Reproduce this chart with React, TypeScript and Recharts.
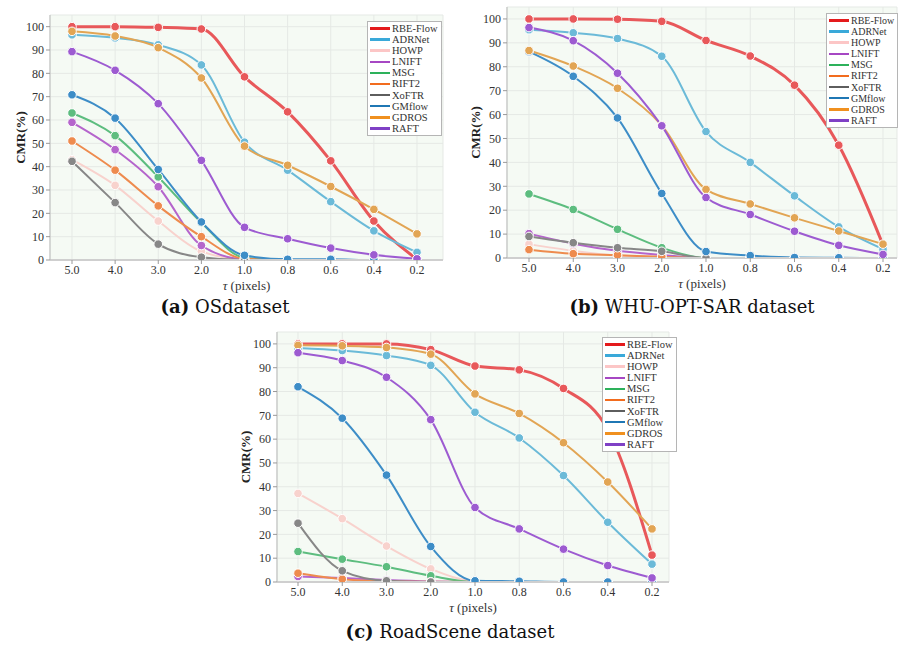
import React from 'react';
import { LineChart, Line, XAxis, YAxis, CartesianGrid, Label } from 'recharts';

// threshold tau (pixels) on the x axis
const taus = ['5.0', '4.0', '3.0', '2.0', '1.0', '0.8', '0.6', '0.4', '0.2'];
const methods = ['RBE-Flow', 'ADRNet', 'HOWP', 'LNIFT', 'MSG', 'RIFT2', 'XoFTR', 'GMflow', 'GDROS', 'RAFT'];
const lineColors = ['#e8585a', '#6bbad8', '#f8d2cd', '#b565cc', '#5dbd7f', '#ee8b4e', '#878787', '#3d8dc7', '#e2a554', '#9d5bd1'];
const legendColors = ['#e41a1c', '#3aa9d9', '#fcc6c6', '#a647c3', '#2db15b', '#f26c1e', '#5e5e5e', '#1f77b4', '#f0901f', '#7f40c5'];
const yTicks = [0, 10, 20, 30, 40, 50, 60, 70, 80, 90, 100];

// CMR(%) per method, rows in the same order as `methods`
const osValues = [
  [100, 100, 99.7, 99, 78.5, 63.5, 42.5, 16.7, 0.3],
  [96.5, 95.2, 92.2, 83.6, 50.5, 38.5, 25, 12.5, 3.3],
  [43, 32, 16.7, 3.7, 0.3, 0, 0, 0, 0],
  [59, 47.3, 31.4, 6.2, 0.3, 0, 0, 0, 0],
  [63, 53.3, 35.6, 16, 1, 0, 0, 0, 0],
  [51, 38.5, 23.2, 10, 0.5, 0, 0, 0, 0],
  [42.3, 24.6, 6.8, 1.2, 0, 0, 0, 0, 0],
  [70.8, 60.8, 38.8, 16.3, 2, 0.3, 0.3, 0, 0],
  [98, 96, 91, 78, 48.8, 40.6, 31.5, 21.7, 11.2],
  [89.3, 81.3, 67, 42.7, 14, 9.1, 5.1, 2.2, 0.5],
];

const whuValues = [
  [100, 100, 99.9, 99, 91, 84.5, 72.3, 47.2, 5.5],
  [95.5, 94.2, 91.8, 84.4, 52.9, 40, 26, 13, 3.7],
  [5.8, 3, 1, 0.5, 0, 0, 0, 0, 0],
  [10.2, 6, 3, 1.3, 0, 0, 0, 0, 0],
  [26.8, 20.3, 12, 4.3, 0, 0, 0, 0, 0],
  [3.5, 1.8, 1.2, 0.5, 0, 0, 0, 0, 0],
  [9, 6.4, 4.3, 2.8, 0, 0, 0, 0, 0],
  [86.3, 76, 58.6, 27, 2.7, 1, 0.2, 0.1, 0],
  [86.8, 80.3, 71, 55.5, 28.7, 22.6, 16.8, 11.3, 5.8],
  [96.4, 90.9, 77.3, 55.3, 25.3, 18.2, 11.2, 5.3, 1.5],
];

const roadValues = [
  [100, 100, 100, 97.6, 90.7, 89.1, 81.3, 64, 11.3],
  [98.3, 97.2, 95.1, 91, 71.3, 60.5, 44.7, 25.1, 7.5],
  [37.2, 26.6, 15.1, 5.5, 0.3, 0, 0, 0, 0],
  [2.3, 1.7, 0.8, 0.2, 0, 0, 0, 0, 0],
  [12.8, 9.6, 6.4, 2.6, 0, 0, 0, 0, 0],
  [3.7, 1.2, 0.3, 0.1, 0, 0, 0, 0, 0],
  [24.7, 4.7, 0.5, 0, 0, 0, 0, 0, 0],
  [82, 68.8, 44.9, 14.9, 0.5, 0.3, 0, 0, 0],
  [99.4, 99.2, 98.5, 95.7, 79, 70.8, 58.5, 42, 22.3],
  [96.3, 93, 86, 68.2, 31.3, 22.3, 13.8, 6.9, 1.7],
];

const serif = 'Liberation Serif';

const toRows = (values: number[][]) =>
  taus.map((tau, i) => {
    const row: any = { tau };
    methods.forEach((m, j) => {
      row[m] = values[j][i];
    });
    return row;
  });

const MethodLegend = ({ left, top, fontSize }: { left: number; top: number; fontSize: number }) => (
  <div
    style={{
      position: 'absolute',
      left,
      top,
      background: '#fff',
      border: '1px solid #b5b5b5',
      padding: '1px 3px 1px 2px',
      fontFamily: serif,
      fontSize,
      color: '#333',
      lineHeight: '11.1px',
      zIndex: 2,
    }}
  >
    {methods.map((m, i) => (
      <div key={m} style={{ display: 'flex', alignItems: 'center', whiteSpace: 'nowrap' }}>
        <span style={{ display: 'inline-block', width: 20, height: 2.5, background: legendColors[i], marginRight: 2 }} />
        {m}
      </div>
    ))}
  </div>
);

interface PanelProps {
  values: number[][];
  left: number;
  top: number;
  width: number;
  height: number;
  margin: { top: number; right: number; left: number; bottom: number };
  yAxisWidth: number;
  padLeft: number;
  padRight: number;
  yLabelX: number;
  legendLeft: number;
  legendTop: number;
  legendFont: number;
}

const Panel = (p: PanelProps) => {
  const data = toRows(p.values);
  return (
    <div style={{ position: 'absolute', left: p.left, top: p.top, width: p.width, height: p.height }}>
      <LineChart width={p.width} height={p.height} data={data} margin={p.margin}>
        <CartesianGrid fill="#f5faf4" stroke="#e5e9e5" />
        <XAxis
          dataKey="tau"
          interval={0}
          height={30}
          padding={{ left: p.padLeft, right: p.padRight }}
          tickSize={4}
          tickMargin={1}
          tick={{ fontSize: 12, fill: '#333', fontFamily: serif }}
          tickLine={{ stroke: '#999' }}
          axisLine={{ stroke: '#cfcfcf', strokeWidth: 2 }}
        >
          <Label
            content={(props: any) => {
              const vb = props.viewBox;
              return (
                <text
                  x={vb.x + vb.width / 2}
                  y={vb.y + 30}
                  textAnchor="middle"
                  fontFamily={serif}
                  fontSize={13}
                  fill="#333"
                >
                  <tspan fontStyle="italic">τ</tspan> (pixels)
                </text>
              );
            }}
          />
        </XAxis>
        <XAxis
          xAxisId="top"
          orientation="top"
          dataKey="tau"
          height={0}
          interval={0}
          padding={{ left: p.padLeft, right: p.padRight }}
          tickSize={4}
          tickFormatter={() => ''}
          tickLine={{ stroke: '#999' }}
          axisLine={{ stroke: '#bbb' }}
        />
        <YAxis
          domain={[0, 105]}
          ticks={yTicks}
          width={p.yAxisWidth}
          tickSize={4}
          tickMargin={2}
          allowDataOverflow
          tick={{ fontSize: 12, fill: '#333', fontFamily: serif }}
          tickLine={{ stroke: '#999' }}
          axisLine={{ stroke: '#bbb' }}
        >
          <Label
            content={(props: any) => {
              const vb = props.viewBox;
              const cx = vb.x + p.yLabelX;
              const cy = vb.y + vb.height / 2;
              return (
                <text
                  x={cx}
                  y={cy}
                  transform={`rotate(-90, ${cx}, ${cy})`}
                  textAnchor="middle"
                  dominantBaseline="central"
                  fontFamily={serif}
                  fontSize={13}
                  fontWeight="bold"
                  fill="#222"
                >
                  CMR(%)
                </text>
              );
            }}
          />
        </YAxis>
        <YAxis
          yAxisId="right"
          orientation="right"
          domain={[0, 105]}
          ticks={yTicks}
          width={0}
          tickSize={4}
          allowDataOverflow
          tickFormatter={() => ''}
          tickLine={{ stroke: '#999' }}
          axisLine={{ stroke: '#bbb' }}
        />
        {methods.map((m, i) => (
          <Line
            key={m}
            type="monotone"
            dataKey={m}
            stroke={lineColors[i]}
            strokeWidth={i === 0 ? 3 : 2}
            dot={{ r: 4.3, fill: lineColors[i], stroke: '#fff', strokeWidth: 1, fillOpacity: 1 }}
            activeDot={false}
            isAnimationActive={false}
          />
        ))}
      </LineChart>
      <MethodLegend left={p.legendLeft} top={p.legendTop} fontSize={p.legendFont} />
    </div>
  );
};

const Caption = ({ x, y, tag, text }: { x: number; y: number; tag: string; text: string }) => (
  <div
    style={{
      position: 'absolute',
      left: x - 200,
      top: y - 12,
      width: 400,
      textAlign: 'center',
      fontFamily: '"DejaVu Serif", serif',
      fontSize: 18,
      lineHeight: '24px',
      color: '#111',
      whiteSpace: 'nowrap',
    }}
  >
    <b>{tag}</b> {text}
  </div>
);

export default function App() {
  return (
    <div
      style={{
        position: 'absolute',
        left: 0,
        top: 0,
        width: 898,
        height: 646,
        overflow: 'hidden',
        background: '#fff',
      }}
    >
      <Panel
        values={osValues}
        left={0}
        top={0}
        width={450}
        height={300}
        margin={{ top: 15, right: 7, left: 0, bottom: 10 }}
        yAxisWidth={50}
        padLeft={22}
        padRight={26}
        yLabelX={20}
        legendLeft={367}
        legendTop={21}
        legendFont={10.5}
      />
      <Panel
        values={whuValues}
        left={450}
        top={0}
        width={448}
        height={300}
        margin={{ top: 7, right: 1, left: 0, bottom: 12 }}
        yAxisWidth={57}
        padLeft={22}
        padRight={14}
        yLabelX={25}
        legendLeft={376}
        legendTop={13}
        legendFont={10}
      />
      <Panel
        values={roadValues}
        left={230}
        top={320}
        width={440}
        height={300}
        margin={{ top: 12, right: 1, left: 0, bottom: 8 }}
        yAxisWidth={47}
        padLeft={21}
        padRight={17}
        yLabelX={15}
        legendLeft={372}
        legendTop={17}
        legendFont={10.5}
      />
      <Caption x={225} y={307} tag="(a)" text="OSdataset" />
      <Caption x={692} y={307} tag="(b)" text="WHU-OPT-SAR dataset" />
      <Caption x={450} y={632} tag="(c)" text="RoadScene dataset" />
    </div>
  );
}
